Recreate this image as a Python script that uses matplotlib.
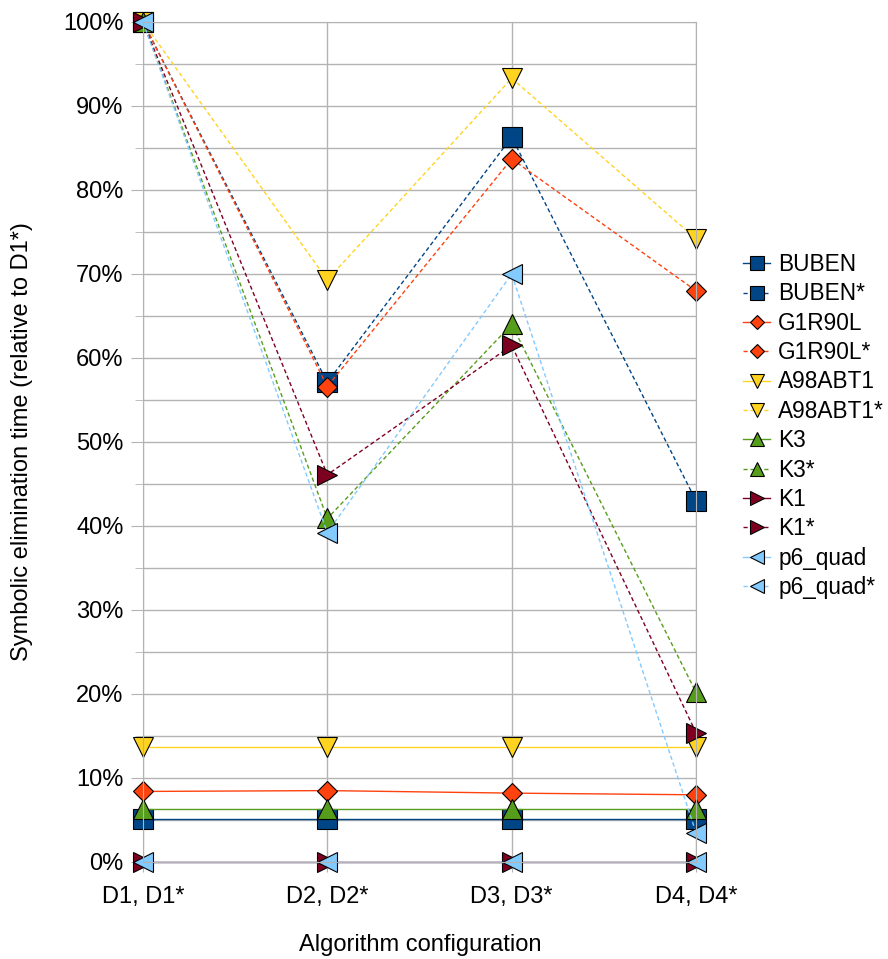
import matplotlib
matplotlib.use("Agg")
import matplotlib.pyplot as plt
from matplotlib.ticker import PercentFormatter, MultipleLocator

plt.rcParams['font.family'] = ['Liberation Sans', 'DejaVu Sans']

categories = ["D1, D1*", "D2, D2*", "D3, D3*", "D4, D4*"]

# values as fraction of D1*
buben = [0.051, 0.051, 0.051, 0.051]
buben_s = [1.0, 0.571, 0.863, 0.430]
g1r90l = [0.084, 0.085, 0.082, 0.080]
g1r90l_s = [1.0, 0.566, 0.837, 0.680]
a98abt1 = [0.137, 0.137, 0.137, 0.137]
a98abt1_s = [1.0, 0.693, 0.933, 0.742]
k3 = [0.063, 0.063, 0.063, 0.063]
k3_s = [1.0, 0.409, 0.640, 0.202]
k1 = [0.0, 0.0, 0.0, 0.0]
k1_s = [1.0, 0.461, 0.615, 0.154]
p6_quad = [0.0, 0.0, 0.0, 0.0]
p6_quad_s = [1.0, 0.392, 0.700, 0.035]

series = [
    ("BUBEN", buben, buben_s, "#004586", "s", 14),
    ("G1R90L", g1r90l, g1r90l_s, "#ff420e", "D", 10),
    ("A98ABT1", a98abt1, a98abt1_s, "#ffd320", "v", 14),
    ("K3", k3, k3_s, "#579d1c", "^", 14),
    ("K1", k1, k1_s, "#7e0021", ">", 14),
    ("p6_quad", p6_quad, p6_quad_s, "#83caff", "<", 14),
]

fig = plt.figure(figsize=(8.88, 9.59), dpi=100)
ax = fig.add_axes([143/888, 1-862/959, (696-143)/888, (862-22)/959])

x = list(range(len(categories)))
for name, solid, star, color, marker, ms in series:
    ax.plot(x, solid, color=color, lw=1.0, ls='-', marker=marker, ms=ms,
            mfc=color, mec='black', mew=0.8, clip_on=False, label=name)
    ax.plot(x, star, color=color, lw=1.0, ls=(0, (3, 2)), marker=marker, ms=ms,
            mfc=color, mec='black', mew=0.8, clip_on=False, label=name + "*")

ax.set_xlim(0, 3)
ax.set_ylim(0, 1)
ax.set_xticks(x)
ax.set_xticklabels(categories)
ax.yaxis.set_major_locator(MultipleLocator(0.1))
ax.yaxis.set_minor_locator(MultipleLocator(0.05))
ax.yaxis.set_major_formatter(PercentFormatter(1.0, decimals=0))
ax.grid(True, which='both', color='#b3b3b3', lw=1.0)
ax.set_axisbelow(True)
for s in ax.spines.values():
    s.set_color('#b3b3b3')
ax.tick_params(axis='y', which='major', length=9, color='#b3b3b3', labelsize=17, pad=5)
ax.tick_params(axis='y', which='minor', length=6, color='#b3b3b3')
ax.tick_params(axis='x', which='major', length=7, color='#b3b3b3', labelsize=17, pad=10)

ax.set_ylabel("Symbolic elimination time (relative to D1*)", fontsize=17, va='center')
ax.yaxis.set_label_coords(22/888, 1-442/959, transform=fig.transFigure)
ax.set_xlabel("Algorithm configuration", fontsize=17, va='center')
ax.xaxis.set_label_coords(420/888, 1-945/959, transform=fig.transFigure)

fig.legend(loc='center left', bbox_to_anchor=(743/888, 1-426/959), frameon=False,
           fontsize=16.3, handlelength=1.2, handletextpad=0.35, labelspacing=0.28,
           markerscale=0.7, borderaxespad=0, borderpad=0)

fig.savefig("out.png", dpi=100)
